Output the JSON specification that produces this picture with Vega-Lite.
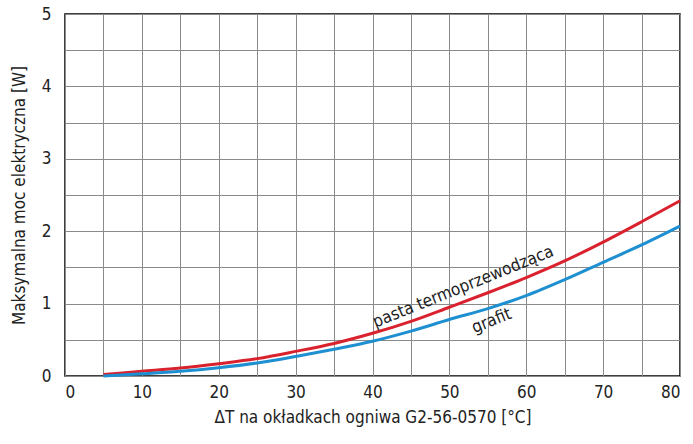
{
  "$schema": "https://vega.github.io/schema/vega-lite/v6.json",
  "width": 615,
  "height": 362,
  "autosize": "none",
  "padding": {"left": 65, "top": 14, "right": 13, "bottom": 68},
  "background": "white",
  "config": {
    "font": "DejaVu Sans Condensed",
    "view": {"stroke": "black", "strokeWidth": 1.5},
    "axis": {
      "gridColor": "#8a8a8a",
      "gridWidth": 1,
      "gridOpacity": 1,
      "domain": false,
      "ticks": false,
      "labelOverlap": false,
      "labelFont": "DejaVu Sans Condensed",
      "titleFont": "DejaVu Sans Condensed",
      "labelFontSize": 17,
      "titleFontSize": 17,
      "labelColor": "#222",
      "titleColor": "#222",
      "titleFontWeight": "normal"
    }
  },
  "datasets": {
    "curves": [
      {"dT": 5, "P": 0.02, "s": "pasta"}, {"dT": 10, "P": 0.065, "s": "pasta"}, {"dT": 15, "P": 0.11, "s": "pasta"},
      {"dT": 20, "P": 0.17, "s": "pasta"}, {"dT": 25, "P": 0.24, "s": "pasta"}, {"dT": 30, "P": 0.34, "s": "pasta"},
      {"dT": 35, "P": 0.45, "s": "pasta"}, {"dT": 40, "P": 0.59, "s": "pasta"}, {"dT": 45, "P": 0.755, "s": "pasta"},
      {"dT": 50, "P": 0.95, "s": "pasta"}, {"dT": 55, "P": 1.15, "s": "pasta"}, {"dT": 60, "P": 1.36, "s": "pasta"},
      {"dT": 65, "P": 1.59, "s": "pasta"}, {"dT": 70, "P": 1.85, "s": "pasta"}, {"dT": 75, "P": 2.13, "s": "pasta"},
      {"dT": 80, "P": 2.42, "s": "pasta"},
      {"dT": 5, "P": 0.0, "s": "grafit"}, {"dT": 10, "P": 0.03, "s": "grafit"}, {"dT": 15, "P": 0.065, "s": "grafit"},
      {"dT": 20, "P": 0.115, "s": "grafit"}, {"dT": 25, "P": 0.18, "s": "grafit"}, {"dT": 30, "P": 0.27, "s": "grafit"},
      {"dT": 35, "P": 0.37, "s": "grafit"}, {"dT": 40, "P": 0.48, "s": "grafit"}, {"dT": 45, "P": 0.62, "s": "grafit"},
      {"dT": 50, "P": 0.78, "s": "grafit"}, {"dT": 55, "P": 0.93, "s": "grafit"}, {"dT": 60, "P": 1.11, "s": "grafit"},
      {"dT": 65, "P": 1.33, "s": "grafit"}, {"dT": 70, "P": 1.57, "s": "grafit"}, {"dT": 75, "P": 1.81, "s": "grafit"},
      {"dT": 80, "P": 2.07, "s": "grafit"}
    ],
    "labels": [
      {"dT": 51.8, "P": 1.23, "t": "pasta termoprzewodząca"},
      {"dT": 55.5, "P": 0.76, "t": "grafit"}
    ]
  },
  "layer": [
    {
      "data": {"name": "curves"},
      "mark": {"type": "line", "strokeWidth": 3, "interpolate": "monotone"},
      "encoding": {
        "x": {
          "field": "dT", "type": "quantitative",
          "scale": {"domain": [0, 80], "nice": false, "zero": false},
          "axis": {
            "values": [0,5,10,15,20,25,30,35,40,45,50,55,60,65,70,75,80],
            "tickCount": 40,
            "labelExpr": "datum.value % 10 == 0 ? format(datum.value, 'd') : ''",
            "labelPadding": 8,
            "title": "ΔT na okładkach ogniwa G2-56-0570 [°C]",
            "titlePadding": 9
          }
        },
        "y": {
          "field": "P", "type": "quantitative",
          "scale": {"domain": [0, 5], "nice": false},
          "axis": {
            "grid": true,
            "tickCount": 12,
            "tickMinStep": 0.5,
            "labelExpr": "datum.value % 1 == 0 ? format(datum.value, 'd') : ''",
            "labelPadding": 14,
            "title": "Maksymalna moc elektryczna [W]",
            "titlePadding": 13
          }
        },
        "color": {
          "field": "s", "type": "nominal",
          "scale": {"domain": ["pasta", "grafit"], "range": ["#d9222e", "#1e8fd0"]},
          "legend": null
        }
      }
    },
    {
      "data": {"name": "labels"},
      "mark": {"type": "text", "angle": -22, "fontSize": 17, "color": "#222", "align": "center", "baseline": "middle"},
      "encoding": {
        "x": {"field": "dT", "type": "quantitative"},
        "y": {"field": "P", "type": "quantitative"},
        "text": {"field": "t"}
      }
    }
  ]
}
